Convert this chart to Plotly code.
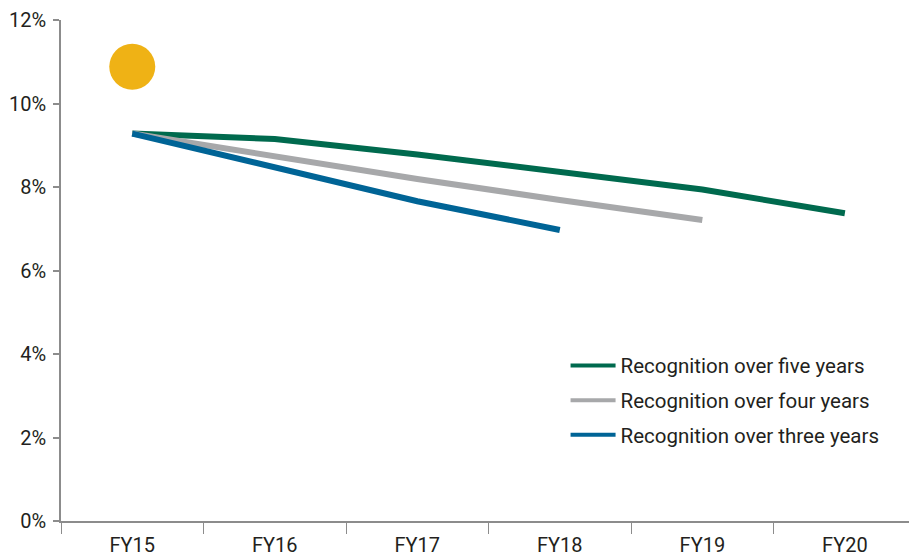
import plotly.graph_objects as go

categories = ["FY15", "FY16", "FY17", "FY18", "FY19", "FY20"]
five_years = [9.28, 9.15, 8.78, 8.36, 7.94, 7.37]
four_years = [9.28, 8.74, 8.19, 7.69, 7.21]
three_years = [9.28, 8.48, 7.66, 6.97]
dot_cat = ["FY15"]
dot_val = [10.88]
yticks = [0, 2, 4, 6, 8, 10, 12]
ytick_labels = ["0%", "2%", "4%", "6%", "8%", "10%", "12%"]
series_names = ["Recognition over five years", "Recognition over four years",
                "Recognition over three years"]

green = "#006A4E"
gray = "#A7A8AA"
blue = "#006496"
yellow = "#EFB215"
axis_col = "#8C8C8C"
text_col = "#231F20"
colors = [green, gray, blue]

fig = go.Figure()
fig.add_trace(go.Scatter(x=categories, y=five_years, mode="lines", showlegend=False,
                         line=dict(color=green, width=6)))
fig.add_trace(go.Scatter(x=categories[:5], y=four_years, mode="lines", showlegend=False,
                         line=dict(color=gray, width=6)))
fig.add_trace(go.Scatter(x=categories[:4], y=three_years, mode="lines", showlegend=False,
                         line=dict(color=blue, width=6)))
fig.add_trace(go.Scatter(x=dot_cat, y=dot_val, mode="markers", showlegend=False,
                         marker=dict(color=yellow, size=46, line=dict(width=0))))
# legend entries (thinner sample lines, as in the reference)
for i, (nm, c) in enumerate(zip(series_names, colors)):
    fig.add_trace(go.Scatter(x=[None], y=[None], mode="lines", name=nm,
                             legendgroup=f"g{i}", line=dict(color=c, width=4)))

fig.update_layout(
    width=909, height=557,
    margin=dict(l=61, r=0, t=20, b=36),
    paper_bgcolor="white", plot_bgcolor="white",
    font=dict(family="Roboto", size=20, color=text_col),
    showlegend=True,
    legend=dict(x=0.595, y=0.350, xanchor="left", yanchor="top",
                bgcolor="rgba(0,0,0,0)", tracegroupgap=5, itemwidth=45,
                font=dict(size=20.5, color=text_col)),
    xaxis=dict(type="category", range=[-0.5, 5.45], showgrid=False,
               showline=True, linecolor=axis_col, linewidth=1.5,
               ticks="outside", tickson="boundaries", ticklen=11,
               tickcolor=axis_col, tickwidth=1, zeroline=False,
               ticklabelstandoff=5,
               tickfont=dict(size=20, color=text_col)),
    yaxis=dict(range=[0, 12], tickvals=yticks, ticktext=ytick_labels,
               showgrid=False,
               showline=True, linecolor=axis_col, linewidth=1.5,
               ticks="outside", ticklen=6, tickcolor=axis_col, tickwidth=1.5,
               zeroline=False, ticklabelstandoff=3,
               tickfont=dict(size=20, color=text_col)),
)

fig.write_html("out.html")
